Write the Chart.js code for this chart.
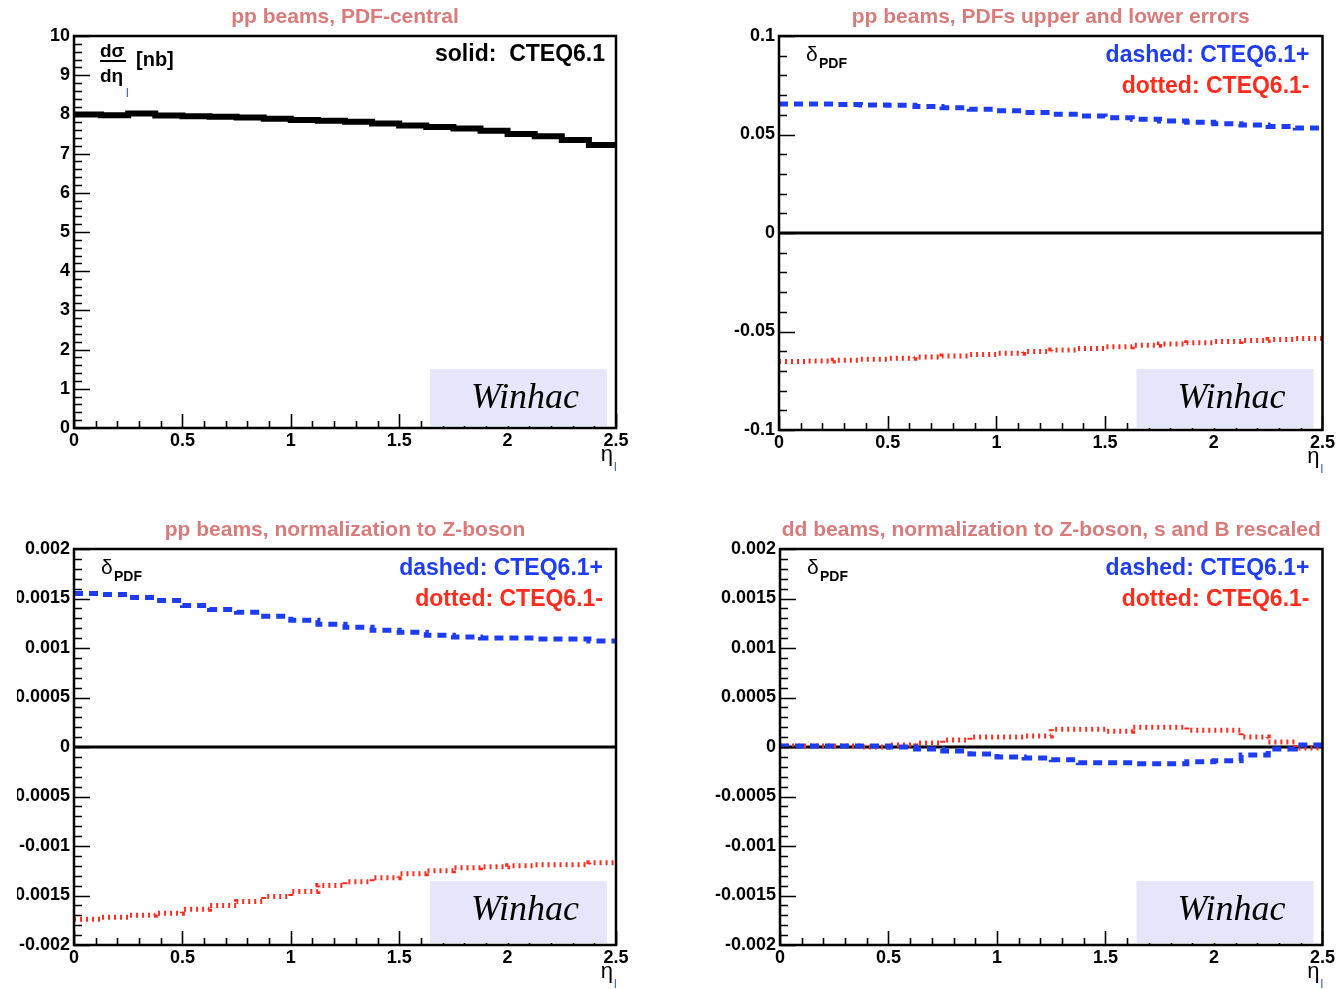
<!DOCTYPE html>
<html>
<head>
<meta charset="utf-8">
<title>Winhac PDF uncertainties</title>
<style>
    html, body { margin: 0; padding: 0; background: #fff; overflow: hidden; }
    #page { position: relative; width: 1337px; height: 989px; overflow: hidden; background: #fff; }
    canvas { position: absolute; }
</style>
<script src="https://cdn.jsdelivr.net/npm/chart.js"></script>
</head>
<body>
<div id="page">
    <canvas id="pPdfCentral" width="668" height="494" style="left:0;top:0"></canvas>
    <canvas id="pPdfErrors" width="669" height="494" style="left:668px;top:0"></canvas>
    <canvas id="pZnorm" width="651" height="495" style="left:17px;top:494px"></canvas>
    <canvas id="pDdZnorm" width="669" height="495" style="left:668px;top:494px"></canvas>
</div>
<script>
'use strict';

// eta_l bin edges, 20 bins of 0.125
const etaEdges = [0, 0.125, 0.25, 0.375, 0.5, 0.625, 0.75, 0.875, 1, 1.125, 1.25,
    1.375, 1.5, 1.625, 1.75, 1.875, 2, 2.125, 2.25, 2.375, 2.5];

// pp beams, PDF-central : dsigma/deta_l [nb], CTEQ6.1
const xsecCentral = [8.00, 7.98, 8.02, 7.97, 7.95, 7.94, 7.92, 7.89, 7.86, 7.84,
    7.81, 7.77, 7.72, 7.68, 7.64, 7.58, 7.50, 7.44, 7.35, 7.22];

// pp beams, PDFs upper and lower errors
const ppPlus = [0.0655, 0.0655, 0.0652, 0.0650, 0.0648, 0.0642, 0.0636, 0.0628, 0.0620, 0.0612,
    0.0603, 0.0594, 0.0585, 0.0577, 0.0569, 0.0562, 0.0555, 0.0548, 0.0541, 0.0533];
const ppMinus = [-0.0652, -0.0650, -0.0646, -0.0641, -0.0636, -0.0630, -0.0624, -0.0617, -0.0610, -0.0602,
    -0.0594, -0.0586, -0.0578, -0.0570, -0.0563, -0.0557, -0.0551, -0.0546, -0.0541, -0.0536];

// pp beams, normalization to Z-boson
const zNormPlus = [0.00155, 0.00154, 0.00151, 0.00148, 0.00143, 0.00139, 0.00136, 0.00132, 0.00128, 0.00124,
    0.00121, 0.00118, 0.00116, 0.00113, 0.00111, 0.00110, 0.00110, 0.00109, 0.00109, 0.00107];
const zNormMinus = [-0.00174, -0.00172, -0.00170, -0.00168, -0.00164, -0.00160, -0.00156, -0.00151, -0.00146, -0.00140,
    -0.00136, -0.00132, -0.00128, -0.00125, -0.00122, -0.00121, -0.00120, -0.00119, -0.00119, -0.00117];

// dd beams, normalization to Z-boson, s and B rescaled
const ddPlus = [0.00001, 0.00001, 0.00001, 0.00001, 0.0, -0.00002, -0.00004, -0.00007, -0.00010, -0.00011,
    -0.00013, -0.00016, -0.00016, -0.00017, -0.00017, -0.00015, -0.00014, -0.00008, -0.00002, 0.00002];
const ddMinus = [0.00001, 0.00001, 0.00001, 0.0, 0.00002, 0.00004, 0.00007, 0.00010, 0.00010, 0.00011,
    0.00018, 0.00018, 0.00016, 0.00020, 0.00020, 0.00017, 0.00017, 0.00010, 0.00005, -0.00001];

const FONT = '"Liberation Sans", Arial, Helvetica, sans-serif';
const BLUE = '#1e3cf2';
const RED = '#ff2b1c';
const TITLE_COLOR = '#d97b7b';

// histogram points: value held over each bin
function histo(vals) {
    const pts = vals.map((v, i) => ({ x: etaEdges[i], y: v }));
    pts.push({ x: etaEdges[vals.length], y: vals[vals.length - 1] });
    return pts;
}

function zeroLine() {
    return {
        data: [etaEdges[0], etaEdges[etaEdges.length - 1]].map(x => ({ x: x, y: 0 })),
        borderColor: '#000', borderWidth: 3, order: 5
    };
}

function txt(ctx, s, x, y, font, color, align) {
    ctx.font = font;
    ctx.fillStyle = color;
    ctx.textAlign = align || 'left';
    ctx.textBaseline = 'alphabetic';
    ctx.fillText(s, x, y);
}

function deltaPdf(ctx, a) {
    txt(ctx, 'δ', a.left + 27, a.top + 25, '21px ' + FONT, '#000');
    txt(ctx, 'PDF', a.left + 40, a.top + 32, 'bold 14px ' + FONT, '#000');
}

function plusMinusLegend(ctx, a) {
    txt(ctx, 'dashed: CTEQ6.1+', a.right - 13, a.top + 26, 'bold 23px ' + FONT, BLUE, 'right');
    txt(ctx, 'dotted: CTEQ6.1-', a.right - 13, a.top + 57, 'bold 23px ' + FONT, RED, 'right');
}

// extra texts per panel, keyed by canvas id
const panelText = {
    pPdfCentral: function (ctx, a) {
        txt(ctx, 'solid:  CTEQ6.1', a.right - 11, a.top + 25, 'bold 23px ' + FONT, '#000', 'right');
        txt(ctx, 'dσ', a.left + 26, a.top + 21, 'bold 19px ' + FONT, '#000');
        ctx.fillStyle = '#000';
        ctx.fillRect(a.left + 26, a.top + 24, 26, 2);
        txt(ctx, 'dη', a.left + 26, a.top + 46, 'bold 19px ' + FONT, '#000');
        txt(ctx, 'l', a.left + 52, a.top + 61, '12px ' + FONT, '#3050c8');
        txt(ctx, '[nb]', a.left + 62, a.top + 30, 'bold 20px ' + FONT, '#000');
    },
    pPdfErrors: function (ctx, a) { deltaPdf(ctx, a); plusMinusLegend(ctx, a); },
    pZnorm: function (ctx, a) { deltaPdf(ctx, a); plusMinusLegend(ctx, a); },
    pDdZnorm: function (ctx, a) { deltaPdf(ctx, a); plusMinusLegend(ctx, a); }
};

// ROOT-like frame, inner ticks, titles and the Winhac pave
const rootFrame = {
    id: 'rootFrame',
    afterDatasetsDraw(chart, args, opts) {
        const { ctx, chartArea: a, scales: { x, y } } = chart;
        ctx.save();
        ctx.strokeStyle = '#000';
        ctx.lineWidth = 1.6;
        ctx.beginPath();
        const ny = Math.round((y.max - y.min) / opts.yMinor);
        for (let i = 0; i <= ny; i++) {
            const py = Math.round(y.getPixelForValue(y.min + i * opts.yMinor)) + 0.5;
            const len = i % 5 === 0 ? 16 : 8;
            ctx.moveTo(a.left, py);
            ctx.lineTo(a.left + len, py);
        }
        const nx = Math.round((x.max - x.min) / 0.1);
        for (let i = 0; i <= nx; i++) {
            const px = Math.round(x.getPixelForValue(x.min + i * 0.1)) + 0.5;
            const len = i % 5 === 0 ? 14 : 7;
            ctx.moveTo(px, a.bottom);
            ctx.lineTo(px, a.bottom - len);
        }
        ctx.stroke();

        ctx.lineWidth = 2.5;
        ctx.strokeRect(a.left, a.top, a.right - a.left, a.bottom - a.top);

        // Winhac pave
        ctx.fillStyle = '#e6e6fa';
        ctx.fillRect(a.right - 186, a.bottom - opts.boxTop, 177, opts.boxTop - 2);
        txt(ctx, 'Winhac', a.right - 91, a.bottom - opts.boxTop + 39,
            'italic 36px "Liberation Serif", "Times New Roman", serif', '#000', 'center');

        // title
        txt(ctx, opts.title, (a.left + a.right) / 2, a.top - 13, 'bold 21px ' + FONT, TITLE_COLOR, 'center');

        // x axis title
        txt(ctx, 'η', a.right - 3, a.bottom + 33, '22px ' + FONT, '#000', 'right');
        txt(ctx, 'l', a.right - 2, a.bottom + 43, '12px ' + FONT, '#3050c8');

        const extra = panelText[chart.canvas.id];
        if (extra) extra(ctx, a);
        ctx.restore();
    }
};

const tickFont = { family: FONT, size: 18, weight: 'bold' };

function makePanel(id, o) {
    const canvas = document.getElementById(id);
    return new Chart(canvas, {
        type: 'line',
        data: { datasets: o.datasets },
        options: {
            responsive: false,
            animation: false,
            events: [],
            layout: { autoPadding: false, padding: { left: 0, top: o.top, right: o.right, bottom: 0 } },
            elements: { point: { radius: 0 }, line: { tension: 0, fill: false } },
            plugins: {
                legend: { display: false },
                tooltip: { enabled: false },
                rootFrame: { yMinor: o.yMinor, boxTop: o.boxTop, title: o.title }
            },
            scales: {
                x: {
                    type: 'linear', min: 0, max: 2.5,
                    grid: { display: false, drawTicks: false, tickLength: 0 }, border: { display: false },
                    ticks: { stepSize: 0.5, maxRotation: 0, autoSkip: false, padding: 2, color: '#000', font: tickFont,
                        callback: v => String(Math.round(v * 1000) / 1000) },
                    afterFit: s => { s.height = canvas.height - o.bottom; }
                },
                y: {
                    type: 'linear', min: o.yMin, max: o.yMax,
                    grid: { display: false, drawTicks: false, tickLength: 0 }, border: { display: false },
                    ticks: { stepSize: o.yStep, padding: 4, color: '#000', font: tickFont, autoSkip: false,
                        callback: v => String(Math.round(v * 1e6) / 1e6) },
                    afterFit: s => { s.width = o.left; }
                }
            }
        },
        plugins: [rootFrame]
    });
}

function upperDashed(vals) {
    return { data: histo(vals), stepped: 'before', borderColor: BLUE, borderWidth: 5, borderDash: [9, 6], order: 1 };
}

function lowerDotted(vals) {
    return { data: histo(vals), stepped: 'before', borderColor: RED, borderWidth: 5, borderDash: [2, 4], order: 2 };
}

makePanel('pPdfCentral', {
    title: 'pp beams, PDF-central',
    left: 74, top: 36, right: 52, bottom: 428, boxTop: 59,
    yMin: 0, yMax: 10, yStep: 1, yMinor: 0.2,
    datasets: [{ data: histo(xsecCentral), stepped: 'before', borderColor: '#000', borderWidth: 6 }]
});

makePanel('pPdfErrors', {
    title: 'pp beams, PDFs upper and lower errors',
    left: 111, top: 36, right: 14, bottom: 430, boxTop: 61,
    yMin: -0.1, yMax: 0.1, yStep: 0.05, yMinor: 0.01,
    datasets: [upperDashed(ppPlus), lowerDotted(ppMinus), zeroLine()]
});

makePanel('pZnorm', {
    title: 'pp beams, normalization to Z-boson',
    left: 57, top: 55, right: 52, bottom: 451, boxTop: 64,
    yMin: -0.002, yMax: 0.002, yStep: 0.0005, yMinor: 0.0001,
    datasets: [upperDashed(zNormPlus), lowerDotted(zNormMinus), zeroLine()]
});

makePanel('pDdZnorm', {
    title: 'dd beams, normalization to Z-boson, s and B rescaled',
    left: 112, top: 55, right: 14, bottom: 451, boxTop: 64,
    yMin: -0.002, yMax: 0.002, yStep: 0.0005, yMinor: 0.0001,
    datasets: [upperDashed(ddPlus), lowerDotted(ddMinus), zeroLine()]
});
</script>
</body>
</html>
